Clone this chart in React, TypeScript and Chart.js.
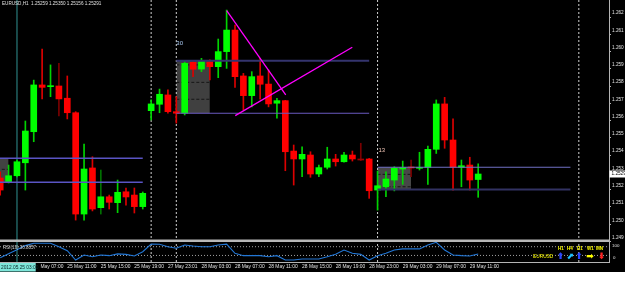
import React, { useEffect, useRef } from "react";
import { Chart, registerables } from "chart.js";

Chart.register(...registerables);

// ---------- data ----------
const opens = [
  1.25268, 1.25246, 1.25281, 1.25356, 1.25536, 1.25807, 1.25797, 1.25801, 1.2573, 1.25646,
  1.25059, 1.25326, 1.25096, 1.25159, 1.25125, 1.25188, 1.25169, 1.25102, 1.25658, 1.25695,
  1.25749, 1.25652, 1.25643, 1.25938, 1.25899, 1.25942, 1.25913, 1.26, 1.26125, 1.25859,
  1.25745, 1.25859, 1.25812, 1.25701, 1.25716, 1.25424, 1.25378, 1.25401, 1.25291, 1.2533,
  1.25378, 1.25362, 1.25401, 1.25378, 1.25378, 1.25198, 1.25217, 1.25256, 1.2532, 1.25329,
  1.25324, 1.2533, 1.25434, 1.25697, 1.25488, 1.2533, 1.25343, 1.25259,
];
const highs = [
  1.25303, 1.25343, 1.25372, 1.25598, 1.25835, 1.26015, 1.25923, 1.25932, 1.25859, 1.25652,
  1.25465, 1.25391, 1.25314, 1.25169, 1.25256, 1.2521, 1.2521, 1.25187, 1.2572, 1.25783,
  1.25778, 1.25739, 1.25942, 1.25942, 1.25961, 1.25952, 1.26073, 1.26241, 1.26154, 1.25874,
  1.25884, 1.25961, 1.25894, 1.2573, 1.25718, 1.25459, 1.25449, 1.2542, 1.25343, 1.25446,
  1.25405, 1.25417, 1.25424, 1.25469, 1.25381, 1.25308, 1.25304, 1.25333, 1.25366, 1.25372,
  1.25417, 1.25453, 1.2572, 1.25735, 1.2561, 1.25372, 1.25388, 1.2535,
];
const lows = [
  1.25169, 1.25239, 1.25274, 1.25198, 1.25478, 1.25726, 1.25739, 1.25627, 1.2561, 1.25024,
  1.25024, 1.25077, 1.25059, 1.25088, 1.25067, 1.25111, 1.25065, 1.25088, 1.25604, 1.25646,
  1.25644, 1.25586, 1.25633, 1.25855, 1.25884, 1.25836, 1.25849, 1.25903, 1.25793, 1.25662,
  1.2568, 1.25724, 1.2568, 1.25614, 1.2531, 1.25227, 1.25275, 1.25272, 1.25275, 1.2532,
  1.25337, 1.25359, 1.25366, 1.25369, 1.2515, 1.25082, 1.25159, 1.25193, 1.25231, 1.25275,
  1.25314, 1.25231, 1.2541, 1.2544, 1.25198, 1.25217, 1.25198, 1.25156,
];
const closes = [
  1.25198, 1.25281, 1.25362, 1.2554, 1.25807, 1.25793, 1.25801, 1.25726, 1.25646, 1.25059,
  1.2532, 1.25088, 1.25159, 1.25127, 1.25185, 1.25158, 1.25102, 1.25179, 1.25697, 1.25753,
  1.25652, 1.25643, 1.25932, 1.25898, 1.25946, 1.25913, 1.26, 1.26125, 1.25855, 1.25745,
  1.25855, 1.25811, 1.25697, 1.25716, 1.2542, 1.25378, 1.25405, 1.25291, 1.25328, 1.25378,
  1.25362, 1.25401, 1.25378, 1.25372, 1.25194, 1.25223, 1.25262, 1.25324, 1.25328, 1.25326,
  1.2533, 1.25434, 1.25697, 1.25488, 1.2533, 1.25339, 1.25256, 1.25291,
];
const rsiValues = [
  19.7, 38, 56, 75, 86, 86, 86, 70, 52, 9,
  32, 24, 32, 29, 37, 35, 27.5, 47, 82, 81,
  70, 63, 78, 73, 70, 70, 78, 82, 40, 29,
  29, 29, 24, 29, 9, 9, 14, 14, 14, 24,
  35, 55, 40, 35, 9, 29, 40, 55, 60, 60,
  60, 78, 90, 55, 32, 29, 27.5, 36.9,
];
const timeTickIndex = [0, 4, 8, 12, 16, 20, 24, 28, 32, 36, 40, 44, 48, 52, 56];
const timeLabels = [
  "2012.05.25 03:00", "25 May 07:00", "25 May 11:00", "25 May 15:00", "25 May 19:00",
  "27 May 23:01", "28 May 03:00", "28 May 07:00", "28 May 11:00", "28 May 15:00",
  "28 May 19:00", "28 May 23:00", "29 May 03:00", "29 May 07:00", "29 May 11:00",
];
const priceTicks = [
  1.249, 1.25, 1.251, 1.252, 1.253, 1.254, 1.255, 1.256, 1.257, 1.258, 1.259, 1.26, 1.261, 1.262,
];
const rsiLevels = [70, 30];
const rsiScaleLabels = ["100", "0"];
const daySeparators = [18, 21, 45, 69];
const markerBars = [2];
const zoneHigh = [1.25382, 1.25947, 1.2533];
const zoneLow = [1.25243, 1.25643, 1.25201];
const zoneFrom = [-1, 21, 45];
const zoneTo = [1, 25, 49];
const zoneLineTo = [17, 44, 68];
const zoneDashes = [[1.25318], [1.25923, 1.25822, 1.25724], [1.25289, 1.25217]];
const trendAX = [27.01, 34.05];
const trendAY = [1.26237, 1.25749];
const trendBX = [28.03, 41.99];
const trendBY = [1.25629, 1.26025];
const objectTexts = ["30", "13"];
const objectBars = [21, 45.1];
const objectPrices = [1.2605, 1.25429];
const symbol = "EURUSD";
const period = "H1";
const titleOHLC = [1.25259, 1.2535, 1.25156, 1.25291];
const rsiName = "RSI(13)";
const rsiLast = "36.8857";
const mtfFrames = ["H1", "H4", "D1", "W1", "MN"];
const mtfArrows = ["⬆", "⬈", "⬆", "➡", "⬇"];

// ---------- styles ----------
const W = 625;
const H = 283;
const X_MIN = -0.024;
const X_MAX = 72.6;
const Y_MIN = 1.2478115;
const Y_MAX = 1.2629911;
const R_MAX = 1200;
const BULL = "#00ff00";
const BEAR = "#ff0000";
const BULL_WICK = "#00d400";
const BEAR_WICK = "#dc0000";
const DIM_BULL = "#007000";
const DIM_BEAR = "#7a0000";
const dimBars = [7, 12, 43, 49];
const AXIS = "#b4b4b4";
const TEXT = "#e0e0e0";
const FONT = "Liberation Sans";
const zoneFill = ["#424242", "#404040", "#474747"];
const zoneHighStyle = [
  { c: "#5a54c4", w: 1.4 },
  { c: "#34346e", w: 2 },
  { c: "#7070c4", w: 1.2 },
];
const zoneLowStyle = [
  { c: "#5a54c4", w: 1.4 },
  { c: "#6a5ac0", w: 1.2 },
  { c: "#323262", w: 2 },
];
const mtfArrowColors = ["#2a46ff", "#1ec0ff", "#2a46ff", "#ffff00", "#ff2020"];
const mtfX = [558, 567, 577, 587, 596];
const mtfArrowX = [560.5, 570, 579, 590, 601.5];

const line = (
  pts: { x: number; y: number }[],
  color: string,
  width: number,
  order: number,
  extra: Record<string, unknown> = {}
) => ({
  type: "line" as const,
  data: pts,
  borderColor: color,
  borderWidth: width,
  pointRadius: 0,
  tension: 0,
  fill: false,
  order,
  xAxisID: "x",
  yAxisID: "y",
  ...extra,
});

export default function App() {
  const ref = useRef<HTMLCanvasElement | null>(null);

  useEffect(() => {
    document.body.style.margin = "0";
    const canvas = ref.current;
    if (!canvas) return;

    const isBull = (i: number) => closes[i] >= opens[i];
    const bodyColor = (c: any) => {
      const i = c.dataIndex;
      if (i === undefined) return BULL;
      if (i === 43) return "#a00000";
      return isBull(i) ? BULL : BEAR;
    };
    const wickColor = (c: any) => {
      const i = c.dataIndex;
      if (i === undefined) return BULL_WICK;
      if (dimBars.includes(i)) return isBull(i) ? DIM_BULL : DIM_BEAR;
      return isBull(i) ? BULL_WICK : BEAR_WICK;
    };

    const datasets: any[] = [];

    zoneHigh.forEach((hi, k) => {
      datasets.push(
        line([{ x: zoneFrom[k], y: hi }, { x: zoneTo[k], y: hi }], "rgba(0,0,0,0)", 0, 12)
      );
      datasets.push(
        line([{ x: zoneFrom[k], y: zoneLow[k] }, { x: zoneTo[k], y: zoneLow[k] }], "rgba(0,0,0,0)", 0, 12, {
          fill: "-1",
          backgroundColor: zoneFill[k],
        })
      );
      zoneDashes[k].forEach((d) => {
        datasets.push(
          line([{ x: zoneFrom[k], y: d }, { x: zoneTo[k], y: d }], "#161616", 1, 11, {
            borderDash: [3, 2],
          })
        );
      });
    });

    daySeparators.forEach((s) => {
      datasets.push(
        line([{ x: s, y: Y_MIN }, { x: s, y: Y_MAX }], "#cfcfcf", 1, 9, { borderDash: [2, 2] })
      );
    });
    markerBars.forEach((m) => {
      datasets.push(line([{ x: m, y: Y_MIN }, { x: m, y: Y_MAX }], "#1f5c5c", 1.6, 9));
    });

    rsiLevels.forEach((lv) => {
      datasets.push(
        line([{ x: X_MIN, y: lv }, { x: X_MAX, y: lv }], "#a0a0a0", 1, 8, {
          yAxisID: "yR",
          borderDash: [1, 2],
        })
      );
    });
    datasets.push(
      line(
        rsiValues.map((v, i) => ({ x: i, y: v })),
        "#2277d6",
        1.1,
        7,
        { yAxisID: "yR" }
      )
    );

    datasets.push({
      type: "bar",
      data: lows.map((l, i) => ({ x: i, y: [l, highs[i]] })),
      backgroundColor: wickColor,
      borderWidth: 0,
      barThickness: 1,
      grouped: false,
      order: 6,
      xAxisID: "x",
      yAxisID: "y",
    });
    datasets.push({
      type: "bar",
      data: opens.map((o, i) => ({ x: i, y: [o, closes[i]] })),
      backgroundColor: bodyColor,
      borderWidth: 0,
      barThickness: 6,
      minBarLength: 1,
      grouped: false,
      order: 5,
      xAxisID: "x",
      yAxisID: "y",
    });

    zoneHigh.forEach((hi, k) => {
      datasets.push(
        line([{ x: zoneFrom[k], y: hi }, { x: zoneLineTo[k], y: hi }], zoneHighStyle[k].c, zoneHighStyle[k].w, 3)
      );
      datasets.push(
        line(
          [{ x: zoneFrom[k], y: zoneLow[k] }, { x: zoneLineTo[k], y: zoneLow[k] }],
          zoneLowStyle[k].c,
          zoneLowStyle[k].w,
          3
        )
      );
    });

    datasets.push(
      line(trendAX.map((x, i) => ({ x, y: trendAY[i] })), "#ff00ff", 1.3, 2)
    );
    datasets.push(
      line(trendBX.map((x, i) => ({ x, y: trendBY[i] })), "#ff00ff", 1.3, 2)
    );

    const font = (size: number, weight = "normal") => `${weight} ${size}px "${FONT}"`;

    const mtPlugin = {
      id: "mt4",
      beforeDraw(chart: any) {
        const ctx = chart.ctx;
        ctx.save();
        ctx.fillStyle = "#000000";
        ctx.fillRect(0, 0, W, 272);
        ctx.restore();
      },
      afterDatasetsDraw(chart: any) {
        const { ctx, chartArea } = chart;
        ctx.save();
        ctx.fillStyle = "#b8b8b8";
        ctx.fillRect(chartArea.left, 239.5, chartArea.right - chartArea.left, 2.5);
        ctx.restore();
      },
      afterDraw(chart: any) {
        const { ctx } = chart;
        const xs = chart.scales.x;
        const ys = chart.scales.y;
        const yr = chart.scales.yR;
        ctx.save();
        ctx.textBaseline = "middle";
        ctx.textAlign = "left";

        ctx.fillStyle = TEXT;
        ctx.font = font(4.6);
        ctx.fillText(
          `${symbol},${period}  ${titleOHLC.map((v) => v.toFixed(5)).join(" ")}`,
          2,
          4
        );

        ctx.font = font(6);
        ctx.fillStyle = "#a8c8f0";
        ctx.fillText(objectTexts[0], xs.getPixelForValue(objectBars[0]), ys.getPixelForValue(objectPrices[0]));
        ctx.fillStyle = "#f0c4b4";
        ctx.fillText(objectTexts[1], xs.getPixelForValue(objectBars[1]), ys.getPixelForValue(objectPrices[1]));

        ctx.fillStyle = "#d0d0d0";
        ctx.font = font(4.5);
        ctx.fillText(`${rsiName} ${rsiLast}`, 3, 247.5);

        ctx.fillStyle = TEXT;
        ctx.font = font(4.4);
        ctx.fillText(rsiScaleLabels[0], 612, 246);
        ctx.fillText(rsiScaleLabels[1], 613, yr.getPixelForValue(0) - 4);

        ctx.fillStyle = "#ffff00";
        ctx.font = font(4.6, "bold");
        mtfFrames.forEach((f, i) => ctx.fillText(f, mtfX[i], 249));
        ctx.font = font(4.8);
        ctx.fillText(symbol, 533, 256.5);
        ctx.font = `bold 9px "DejaVu Sans"`;
        ctx.textAlign = "center";
        mtfArrows.forEach((a, i) => {
          ctx.fillStyle = mtfArrowColors[i];
          ctx.fillText(a, mtfArrowX[i], 256.5);
        });
        ctx.textAlign = "left";

        const cy = ys.getPixelForValue(titleOHLC[3]);
        ctx.fillStyle = "#ffffff";
        ctx.fillRect(609.5, cy - 3.5, W - 609.5, 7);
        ctx.fillStyle = "#000000";
        ctx.font = font(4.7);
        ctx.fillText(titleOHLC[3].toFixed(5), 611.5, cy);

        ctx.fillStyle = "#000000";
        ctx.fillRect(0, 263, 40.5, 8.5);
        ctx.fillStyle = "#7ee6da";
        ctx.fillRect(0, 263, 35.7, 8.5);
        ctx.fillStyle = "#0a2a2a";
        ctx.font = font(4.8);
        ctx.fillText(timeLabels[0], 1, 267.3);
        ctx.restore();
      },
    };

    const chart = new Chart(canvas, {
      type: "bar",
      data: { datasets },
      plugins: [mtPlugin],
      options: {
        responsive: false,
        animation: false,
        devicePixelRatio: 1,
        events: [],
        layout: { padding: { left: 0, right: 0, top: 0, bottom: 11 }, autoPadding: false },
        plugins: {
          legend: { display: false },
          tooltip: { enabled: false },
          title: { display: false },
        },
        scales: {
          x: {
            type: "linear",
            min: X_MIN,
            max: X_MAX,
            offset: false,
            position: "bottom",
            grid: { display: false, drawTicks: false },
            border: { display: true, color: AXIS, width: 1 },
            ticks: {
              autoSkip: false,
              maxRotation: 0,
              minRotation: 0,
              align: "start",
              padding: 2,
              color: TEXT,
              font: { family: FONT, size: 4.9 },
              callback: (v: any) => {
                const k = timeTickIndex.indexOf(Number(v));
                return k >= 0 ? timeLabels[k] : "";
              },
            },
            afterBuildTicks: (s: any) => {
              s.ticks = timeTickIndex.slice(1).map((v) => ({ value: v }));
            },
            afterFit: (s: any) => {
              s.height = 10;
              s.paddingLeft = 0;
              s.paddingRight = 0;
            },
          },
          y: {
            type: "linear",
            position: "right",
            min: Y_MIN,
            max: Y_MAX,
            grid: { display: true, drawOnChartArea: false, drawTicks: true, tickLength: 2, color: AXIS },
            border: { display: true, color: AXIS, width: 1 },
            ticks: {
              padding: 1,
              labelOffset: -4,
              color: TEXT,
              font: { family: FONT, size: 4.7 },
              callback: (v: any) => Number(v).toFixed(3),
            },
            afterBuildTicks: (s: any) => {
              s.ticks = priceTicks.map((v) => ({ value: v }));
            },
            afterFit: (s: any) => {
              s.width = 16;
              s.paddingTop = 0;
              s.paddingBottom = 0;
            },
          },
          yR: {
            type: "linear",
            display: false,
            min: 0,
            max: R_MAX,
          },
        },
      } as any,
    });

    return () => chart.destroy();
  }, []);

  return (
    <div style={{ width: W, height: H, background: "#ffffff" }}>
      <canvas ref={ref} width={W} height={H} style={{ display: "block", width: W, height: H }} />
    </div>
  );
}
